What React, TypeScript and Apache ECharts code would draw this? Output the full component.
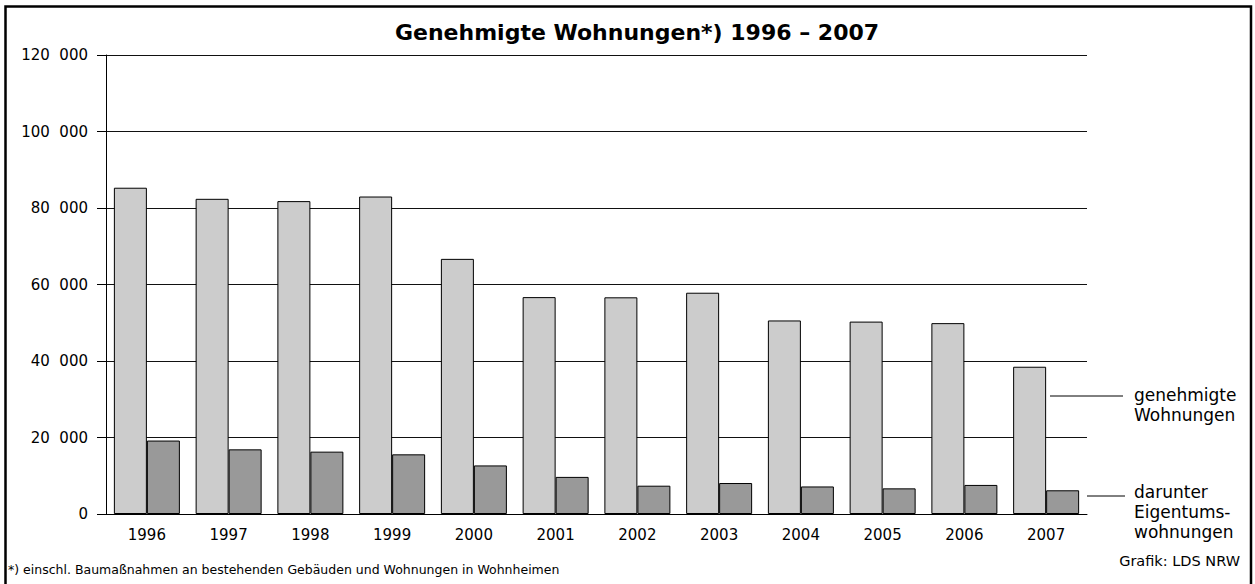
import React, { useEffect, useRef } from "react";
import * as echarts from "echarts";

const years = ["1996", "1997", "1998", "1999", "2000", "2001", "2002", "2003", "2004", "2005", "2006", "2007"];
const genehmigt = [85300, 82400, 81800, 83000, 66700, 56700, 56650, 57850, 50600, 50300, 49900, 38500];
const eigentum = [19200, 16900, 16300, 15600, 12700, 9700, 7400, 8100, 7200, 6700, 7600, 6200];
const titleText = "Genehmigte Wohnungen*) 1996 – 2007";
const footnote = "*) einschl. Baumaßnahmen an bestehenden Gebäuden und Wohnungen in Wohnheimen";
const source = "Grafik: LDS NRW";
const label1 = "genehmigte\nWohnungen";
const label2 = "darunter\nEigentums-\nwohnungen";

const FONT = "'DejaVu Sans', sans-serif";

export default function App() {
  const ref = useRef<HTMLDivElement>(null);
  useEffect(() => {
    document.body.style.margin = "0";
    const chart = echarts.init(ref.current!, null, { renderer: "svg" });
    chart.setOption({
      animation: false,
      backgroundColor: "#ffffff",
      textStyle: { fontFamily: FONT },
      title: {
        text: titleText,
        left: 632,
        textAlign: "center",
        top: 16,
        textStyle: { fontFamily: FONT, fontWeight: "bold", fontSize: 22, color: "#000" },
      },
      grid: { left: 106, right: 168, top: 55, bottom: 70 },
      xAxis: {
        type: "category",
        data: years,
        axisLine: { show: true, lineStyle: { color: "#000", width: 1 } },
        axisTick: { show: false },
        axisLabel: { color: "#000", fontSize: 15, margin: 13, fontFamily: FONT },
      },
      yAxis: {
        type: "value",
        min: 0,
        max: 120000,
        interval: 20000,
        axisLine: { show: true, lineStyle: { color: "#000", width: 1 } },
        axisTick: { show: true, length: 9, lineStyle: { color: "#000" } },
        splitLine: { show: true, lineStyle: { color: "#111", width: 1 } },
        axisLabel: {
          color: "#000",
          fontSize: 15,
          margin: 18,
          fontFamily: FONT,
          padding: [0, 0, 8, 0],
          formatter: (v: number) => (v === 0 ? "0" : String(v).replace(/\B(?=(\d{3})+(?!\d))/g, "\u2007")),
        },
      },
      series: [
        {
          type: "bar",
          data: genehmigt,
          barWidth: 33,
          barGap: "0%",
          itemStyle: { color: "#cccccc", borderColor: "#000", borderWidth: 1 },
        },
        {
          type: "bar",
          data: eigentum,
          barWidth: 33,
          barGap: "0%",
          itemStyle: { color: "#999999", borderColor: "#000", borderWidth: 1 },
        },
      ],
      graphic: [
        {
          type: "rect",
          shape: { x: 5.5, y: 6.5, width: 1245.5, height: 582 },
          style: { fill: "none", stroke: "#000", lineWidth: 2.5 },
          silent: true,
        },
        { type: "line", shape: { x1: 1050, y1: 396, x2: 1123, y2: 396 }, style: { stroke: "#000", lineWidth: 1 } },
        { type: "line", shape: { x1: 1087, y1: 496, x2: 1125, y2: 496 }, style: { stroke: "#000", lineWidth: 1 } },
        {
          type: "text",
          x: 1134,
          y: 385,
          style: { text: label1, font: `17px ${FONT}`, fill: "#000", lineHeight: 20 },
        },
        {
          type: "text",
          x: 1134,
          y: 482,
          style: { text: label2, font: `17px ${FONT}`, fill: "#000", lineHeight: 20 },
        },
        {
          type: "text",
          x: 8,
          y: 563,
          style: { text: footnote, font: `12.5px ${FONT}`, fill: "#000" },
        },
        {
          type: "text",
          x: 1240,
          y: 553,
          style: { text: source, font: `14.5px ${FONT}`, fill: "#000", align: "right" },
        },
      ],
    });
    return () => chart.dispose();
  }, []);
  return <div ref={ref} style={{ width: 1255, height: 584 }} />;
}
